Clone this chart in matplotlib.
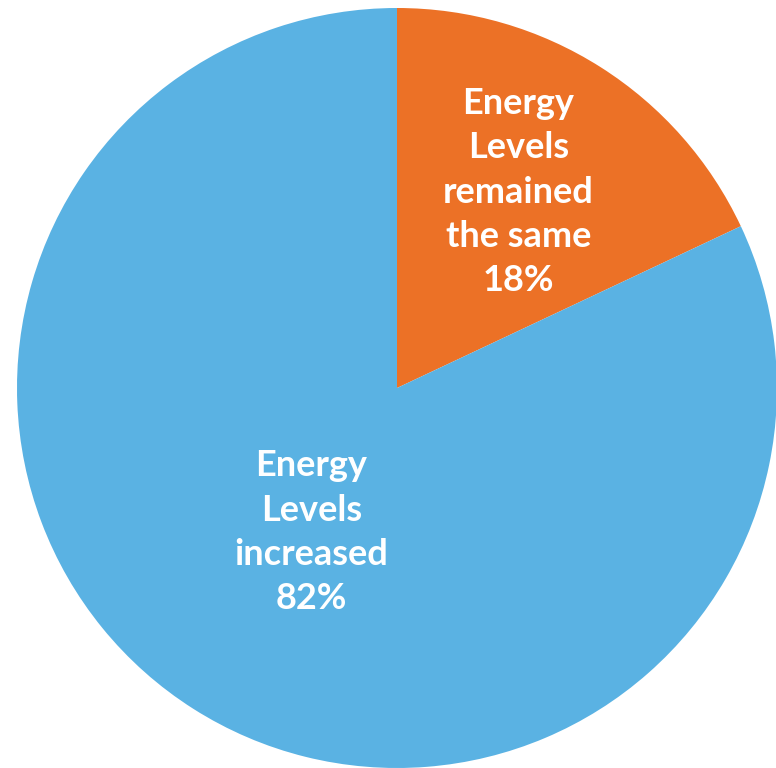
import numpy as np
import matplotlib.pyplot as plt

labels = ["Energy\nLevels\nremained\nthe same", "Energy\nLevels\nincreased"]
values = [18, 82]
colors = ["#EC7126", "#5AB2E3"]
label_dist = [0.61, 0.45]

fig = plt.figure(figsize=(7.76, 7.68), dpi=100)
ax = fig.add_axes([0, 0, 1, 1])
ax.set_xlim(0, 776)
ax.set_ylim(0, 768)
ax.set_aspect("equal")
ax.axis("off")

cx, cy, r = 397, 380, 380
wedges, _ = ax.pie(values, colors=colors, startangle=90, counterclock=False,
                   center=(cx, cy), radius=r, frame=True,
                   wedgeprops=dict(linewidth=0))
ax.axis("off")

for w, lab, v, d in zip(wedges, labels, values, label_dist):
    ang = np.deg2rad((w.theta1 + w.theta2) / 2)
    x = cx + d * r * np.cos(ang) + (6 if v > 50 else -3)
    y = cy + d * r * np.sin(ang)
    ax.text(x, y, f"{lab}\n{v}%", ha="center", va="center", color="white",
            fontsize=26, fontweight="bold", family="Lato", linespacing=1.42)

fig.savefig("out.png", dpi=100)
